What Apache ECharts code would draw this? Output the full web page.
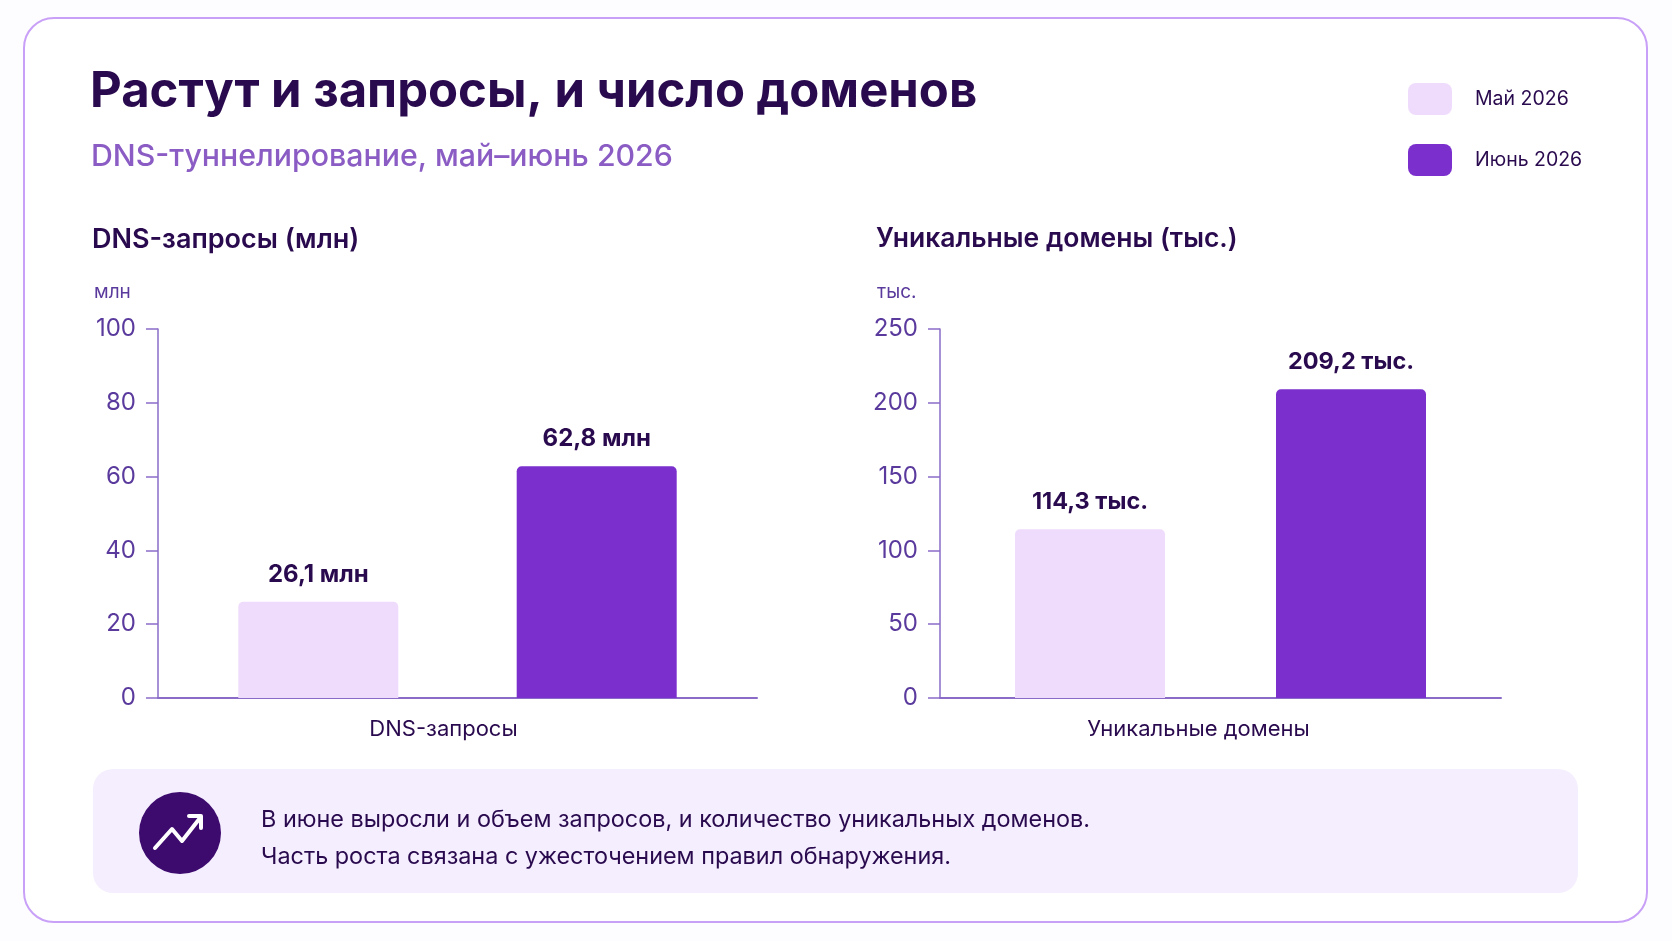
<!DOCTYPE html>
<html><head><meta charset="utf-8">
<script src="https://cdn.jsdelivr.net/npm/echarts@6/dist/echarts.min.js"></script>
<style>html,body{margin:0;padding:0;background:#fdfcff;}#c{width:1672px;height:941px;}</style>
</head><body><div id="c"></div>
<script>
const seriesNames = ['Май 2026', 'Июнь 2026'];
const queriesCategory = ['DNS-запросы'];
const domainsCategory = ['Уникальные домены'];
const queriesValues = [26.1, 62.8];   // млн
const domainsValues = [114.3, 209.2]; // тыс.
const queriesTicks = {min: 0, max: 100, interval: 20};
const domainsTicks = {min: 0, max: 250, interval: 50};
const colors = ['#efdcfd', '#7b30cd'];

const FONT = 'Inter, "Noto Sans", sans-serif';
const dark = '#2a0a4e';
const axisPurple = '#8a6cc8';
const tickText = '#5a3a9c';

function fmt(v, unit) { return String(v).replace('.', ',') + ' ' + unit; }

const chart = echarts.init(document.getElementById('c'));

function yAxis(idx, t) {
  return {
    type: 'value', gridIndex: idx, min: t.min, max: t.max, interval: t.interval,
    axisLine: {show: true, lineStyle: {color: axisPurple, width: 1.5}},
    axisTick: {show: true, length: 12, lineStyle: {color: axisPurple, width: 1.5}},
    splitLine: {show: false},
    axisLabel: {color: tickText, fontSize: 24, fontFamily: FONT, margin: 22}
  };
}
function xAxis(idx, cats, shift) {
  return {
    type: 'category', gridIndex: idx, data: cats,
    axisLine: {show: true, lineStyle: {color: axisPurple, width: 2}},
    axisTick: {show: false},
    axisLabel: {color: dark, fontSize: 22, fontFamily: FONT, margin: 20,
                padding: [0, shift * 2, 0, 0]}
  };
}
function bar(name, xi, val, ci, unit, w, fs) {
  return {
    type: 'bar', name: name, xAxisIndex: xi, yAxisIndex: xi, data: [val],
    barWidth: w, barGap: '74%',
    itemStyle: {color: colors[ci], borderRadius: [5, 5, 0, 0]},
    label: {show: true, position: 'top', distance: 15, color: dark, fontSize: fs,
            fontWeight: 'bold', fontFamily: FONT, formatter: p => fmt(p.value, unit)}
  };
}

const option = {
  backgroundColor: '#fdfcff',
  animation: false,
  textStyle: {fontFamily: FONT},
  title: [
    {text: 'Растут и запросы, и число доменов', left: 85, top: 63,
     textStyle: {fontSize: 49, fontWeight: 'bold', color: dark, fontFamily: FONT}},
    {text: 'DNS-туннелирование, май–июнь 2026', left: 86, top: 137,
     textStyle: {fontSize: 30.3, fontWeight: 500, color: '#8a5cc4', fontFamily: FONT}},
    {text: 'DNS-запросы (млн)', left: 87, top: 221,
     textStyle: {fontSize: 27, fontWeight: 600, color: dark, fontFamily: FONT}},
    {text: 'Уникальные домены (тыс.)', left: 871, top: 221,
     textStyle: {fontSize: 26.5, fontWeight: 600, color: dark, fontFamily: FONT}},
    {text: 'млн', left: 89, top: 278,
     textStyle: {fontSize: 19, fontWeight: 'normal', color: tickText, fontFamily: FONT}},
    {text: 'тыс.', left: 872, top: 278,
     textStyle: {fontSize: 19, fontWeight: 'normal', color: tickText, fontFamily: FONT}}
  ],
  legend: {
    data: seriesNames, orient: 'vertical', left: 1403, top: 78,
    itemWidth: 44, itemHeight: 32, itemGap: 29, icon: 'roundRect',
    textStyle: {fontSize: 19.5, color: dark, fontFamily: FONT, padding: [8, 0, 0, 18]},
    selectedMode: false
  },
  grid: [
    {left: 158, right: 1672 - 757, top: 329, bottom: 941 - 698, containLabel: false},
    {left: 940, right: 1672 - 1501, top: 329, bottom: 941 - 698, containLabel: false}
  ],
  xAxis: [xAxis(0, queriesCategory, 14), xAxis(1, domainsCategory, 22)],
  yAxis: [yAxis(0, queriesTicks), yAxis(1, domainsTicks)],
  series: [
    bar(seriesNames[0], 0, queriesValues[0], 0, 'млн', 160, 24),
    bar(seriesNames[1], 0, queriesValues[1], 1, 'млн', 160, 24),
    bar(seriesNames[0], 1, domainsValues[0], 0, 'тыс.', 150, 23.5),
    bar(seriesNames[1], 1, domainsValues[1], 1, 'тыс.', 150, 23.5)
  ],
  graphic: [
    {type: 'rect', z: -10, silent: true,
     shape: {x: 24, y: 18, width: 1623, height: 904, r: 30},
     style: {fill: '#ffffff', stroke: '#c9a0f7', lineWidth: 2}},
    {type: 'rect', z: -9, silent: true,
     shape: {x: 93, y: 769, width: 1485, height: 124, r: 20},
     style: {fill: '#f5eefe'}},
    {type: 'circle', silent: true, shape: {cx: 180, cy: 833, r: 41},
     style: {fill: '#3d0a6e'}},
    {type: 'polyline', silent: true,
     shape: {points: [[155, 848], [172, 829], [182, 841], [200, 818]]},
     style: {stroke: '#ffffff', lineWidth: 4, fill: null, lineCap: 'round', lineJoin: 'round'}},
    {type: 'polyline', silent: true,
     shape: {points: [[189, 816], [201, 816], [201, 828]]},
     style: {stroke: '#ffffff', lineWidth: 4, fill: null, lineCap: 'round', lineJoin: 'round'}},
    {type: 'text', silent: true, x: 261, y: 820,
     style: {text: 'В июне выросли и объем запросов, и количество уникальных доменов.',
              fontSize: 23.4, fill: dark, fontFamily: FONT, verticalAlign: 'middle'}},
    {type: 'text', silent: true, x: 261, y: 857,
     style: {text: 'Часть роста связана с ужесточением правил обнаружения.',
              fontSize: 23.4, fill: dark, fontFamily: FONT, verticalAlign: 'middle'}}
  ]
};
chart.setOption(option);
</script></body></html>
